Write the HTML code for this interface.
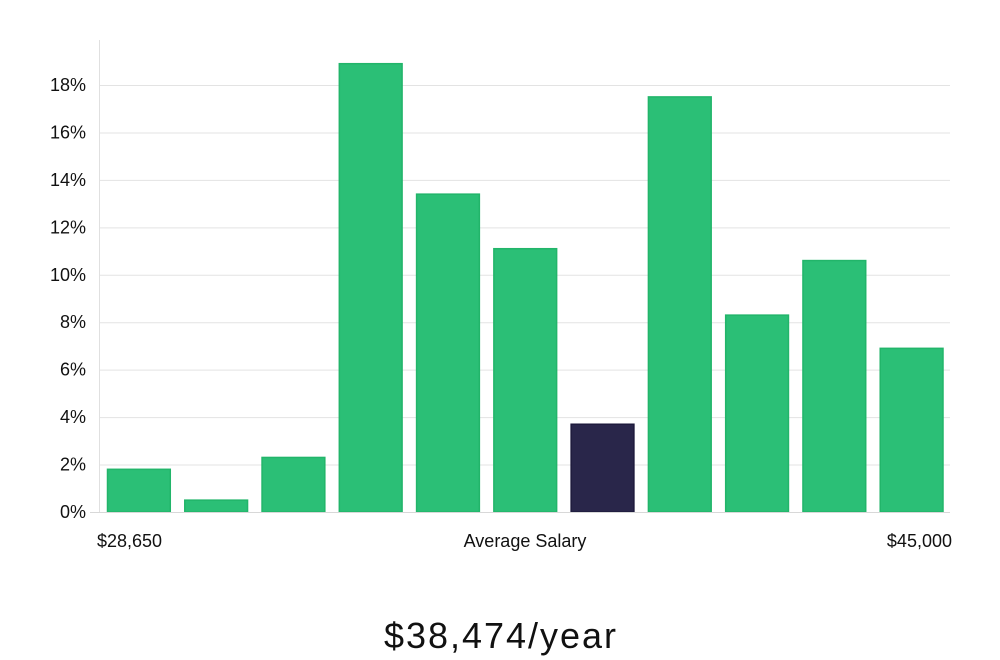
<!DOCTYPE html>
<html><head><meta charset="utf-8"><style>
body{margin:0;background:#fff;width:1000px;height:660px;overflow:hidden;font-family:"Liberation Sans","DejaVu Sans",sans-serif;}
svg{display:block}
</style></head><body>
<svg id="chart" width="1000" height="660">
<g id="grid"></g>
<g id="yticks"></g>
<g id="bars"></g>
<line x1="99.5" y1="40" x2="99.5" y2="512" stroke="#e0e0e0" stroke-width="1"/>
<line x1="90" y1="512.5" x2="950" y2="512.5" stroke="#d8d8d8" stroke-width="1"/>
<text x="97" y="547" font-size="18" fill="#111">$28,650</text>
<text x="525" y="547" font-size="18" fill="#111" text-anchor="middle">Average Salary</text>
<text x="952" y="547" font-size="18" fill="#111" text-anchor="end">$45,000</text>
<text x="500" y="648" font-size="36" fill="#111" text-anchor="middle" textLength="232">$38,474/year</text>
</svg>
<script>
const values=[1.8,0.5,2.3,18.9,13.4,11.1,3.7,17.5,8.3,10.6,6.9];
const highlightIndex=[6];
const yTicks=[0,2,4,6,8,10,12,14,16,18];
const NS="http://www.w3.org/2000/svg";
const x0=100,x1=950,yBase=512,pxPerPct=23.72;
const y=v=>yBase-v*pxPerPct;
const band=(x1-x0)/values.length;
const grid=document.getElementById('grid'),yt=document.getElementById('yticks'),bars=document.getElementById('bars');
yTicks.forEach(t=>{
 if(t>0){const l=document.createElementNS(NS,'line');
 l.setAttribute('x1',x0);l.setAttribute('x2',x1);l.setAttribute('y1',y(t)+0.5);l.setAttribute('y2',y(t)+0.5);
 l.setAttribute('stroke','#e3e3e3');
 
 
 grid.appendChild(l);}
 const tx=document.createElementNS(NS,'text');
 tx.setAttribute('x',86);tx.setAttribute('y',y(t)+6);tx.setAttribute('text-anchor','end');
 tx.setAttribute('font-size','18');tx.setAttribute('fill','#111');tx.textContent=t+'%';
 
 
 yt.appendChild(tx);
});
values.forEach((v,i)=>{
 const r=document.createElementNS(NS,'rect');
 const hl=highlightIndex.includes(i);
 r.setAttribute('x',x0+i*band+7.5);r.setAttribute('width',band-14.5);
 r.setAttribute('y',y(v));r.setAttribute('height',yBase-y(v));
 r.setAttribute('fill',hl?'#29264a':'#2bbf76');
 r.setAttribute('stroke',hl?'#1e1b3d':'#22b56a');r.setAttribute('stroke-width','1.5');
 
 
 bars.appendChild(r);
});
</script>
</body></html>
